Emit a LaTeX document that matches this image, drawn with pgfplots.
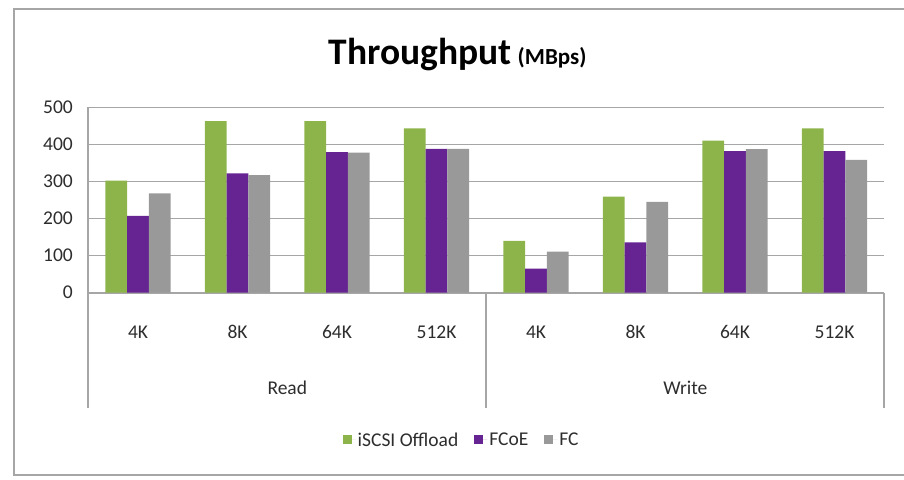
\documentclass[border=0pt]{standalone}
\usepackage{pgfplots}
\pgfplotsset{compat=1.18}
\usepackage{fontspec}
\setmainfont{Carlito}
\definecolor{cgreen}{RGB}{141,180,74}
\definecolor{cpurple}{RGB}{101,36,146}
\definecolor{cgrey}{RGB}{153,153,153}
\definecolor{cline}{RGB}{166,166,166}
\definecolor{ctext}{RGB}{45,45,45}
\pgfplotsset{sqlegend/.style={legend image code/.code={\fill[##1] (0bp,-4.5bp) rectangle (9bp,4.5bp); \path (0bp,0bp) -- (13bp,0bp);}}}
\begin{document}
\begin{tikzpicture}
\useasboundingbox (-88.3bp,-187.3bp) rectangle (815.7bp,292.7bp);
\begin{scope}
\clip (-88.3bp,-187.3bp) rectangle (815.7bp,292.7bp);
\draw[line width=2.2bp, color=cline] (-74bp,-182bp) rectangle (830bp,284bp);
\end{scope}
\node[anchor=base west, font=\fontsize{37.5bp}{40bp}\selectfont\bfseries, inner sep=0pt] at (240bp,228bp) {Throughput\,{\fontsize{23bp}{26bp}\selectfont(MBps)}};
\begin{axis}[
  at={(0,0)}, anchor=south west,
  scale only axis, width=796bp, height=185.4bp,
  ybar=0pt, bar width=21.7bp,
  xmin=-0.5, xmax=7.5, ymin=0, ymax=500,
  ytick={0,100,200,300,400,500},
  xtick={0,1,2,3,4,5,6,7},
  xticklabels={4K,8K,64K,512K,4K,8K,64K,512K},
  major tick length=0pt,
  axis lines*=left,
  x axis line style={draw=none},
  y axis line style={line width=1.6bp, color=cline},
  ymajorgrids,
  grid style={line width=1.6bp, color=cline},
  /pgf/number format/assume math mode=true,
  ticklabel style={font=\fontsize{19.5bp}{22bp}\selectfont, text=ctext},
  yticklabel style={xshift=-12bp},
  xticklabel style={anchor=center, yshift=-39.3bp},
  clip=false,
  legend style={draw=none, fill=none, at={(0.469,-0.7945)}, anchor=center,
    font=\fontsize{19.5bp}{22bp}\selectfont, text=ctext,
    legend columns=3, /tikz/every even column/.append style={column sep=14bp}},
]
\addplot[draw=none, fill=cgreen, sqlegend] coordinates {(0,302) (1,463) (2,463) (3,443) (4,140) (5,259) (6,410) (7,443)};
\addlegendentry{iSCSI Offload}
\addplot[draw=none, fill=cpurple, sqlegend] coordinates {(0,207) (1,322) (2,379) (3,388) (4,65) (5,136) (6,382) (7,382)};
\addlegendentry{FCoE}
\addplot[draw=none, fill=cgrey, sqlegend] coordinates {(0,268) (1,317) (2,378) (3,388) (4,111) (5,245) (6,387) (7,358)};
\addlegendentry{FC}
\draw[line width=1.6bp, color=cline] (axis cs:-0.5,0) -- ([yshift=-115.3bp]axis cs:-0.5,0);
\draw[line width=1.6bp, color=cline] (axis cs:3.5,0) -- ([yshift=-115.3bp]axis cs:3.5,0);
\draw[line width=1.6bp, color=cline] (axis cs:7.5,0) -- ([yshift=-115.3bp]axis cs:7.5,0);
\node[font=\fontsize{19.5bp}{22bp}\selectfont, text=ctext] at ([yshift=-95.3bp]axis cs:1.5,0) {Read};
\node[font=\fontsize{19.5bp}{22bp}\selectfont, text=ctext] at ([yshift=-95.3bp]axis cs:5.5,0) {Write};
\end{axis}
\end{tikzpicture}
\end{document}
